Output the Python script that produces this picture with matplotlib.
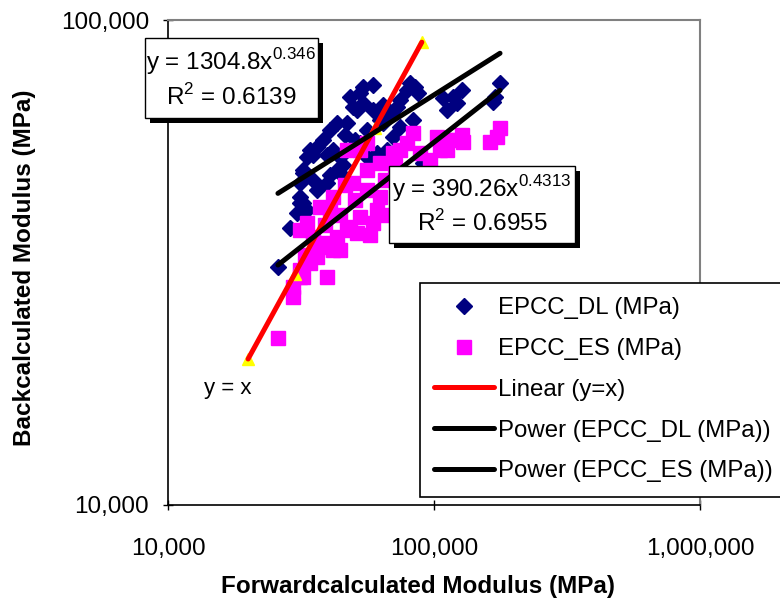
import numpy as np
import matplotlib
matplotlib.use("Agg")
import matplotlib.pyplot as plt
from matplotlib.ticker import FuncFormatter, NullLocator
from matplotlib.patches import Rectangle

plt.rcParams['font.family'] = ['Liberation Sans', 'DejaVu Sans']
plt.rcParams['mathtext.fontset'] = 'custom'
plt.rcParams['mathtext.rm'] = 'Liberation Sans'

# EPCC_DL (MPa): forwardcalculated vs backcalculated
dl_fwd = [25900, 28750, 30550, 31350, 31350, 31350, 32180, 32180, 33320, 33320,
          34190, 32180, 35090, 36330, 36330, 38270, 39620, 40640, 40640, 41710,
          43180, 43180, 44320, 44320, 47090, 48330, 49610, 51350, 52700, 52700,
          54090, 54090, 58970, 56000, 58970, 58970, 61050, 61050, 62660, 64310,
          66570, 68320, 70120, 72590, 74500, 74500, 79150, 81240, 84830, 87070,
          83380, 90920, 108100, 117900, 127400, 122000, 111900, 177100, 169600, 166700,
          46290, 50470, 39620, 35090, 56000, 64310, 45490]
dl_back = [30960, 37250, 40010, 43160, 41950, 46120, 48370, 41950, 40580, 52180,
           53950, 49060, 52680, 54720, 44620, 56580, 46120, 59330, 47910, 53950,
           61330, 49060, 52180, 48370, 61330, 69380, 66170, 65230, 70710, 55780,
           72760, 67440, 73450, 52180, 50720, 65230, 64620, 53190, 62210, 61330,
           53950, 64310, 57390, 66170, 68410, 60180, 71730, 74150, 72760, 70710,
           62210, 50720, 69050, 69380, 71730, 67440, 65230, 74150, 69380, 67760,
           57940, 56580, 52680, 46780, 59330, 66800, 50230]

# EPCC_ES (MPa)
es_fwd = [25900, 29500, 29500, 31350, 31350, 32180, 34190, 39620, 36330, 39620,
          44320, 36330, 41710, 35090, 39620, 43180, 47090, 51350, 31350, 33320,
          37290, 41710, 48330, 52700, 58970, 61050, 62660, 56000, 49610, 62660,
          56000, 70120, 52700, 47090, 56000, 79150, 83380, 88600, 102600, 105300,
          111900, 119900, 127400, 128500, 162400, 172600, 177100, 96600, 111900, 44320,
          38930, 50470, 46290, 65440, 71350, 35700, 32730, 57460, 65440, 40640, 74500]
es_back = [22100, 26850, 28150, 29520, 30520, 29520, 31550, 29520, 32460, 34040,
           33560, 33560, 33560, 35700, 34700, 35700, 36900, 36380, 36900, 38140,
           41160, 43160, 37430, 39250, 38140, 40580, 43160, 44620, 46120, 50720,
           49060, 53190, 53950, 53950, 55780, 55780, 58490, 53190, 57390, 53950,
           56580, 56580, 57940, 56040, 56040, 57390, 59890, 51440, 53950, 39620,
           37790, 42550, 45690, 46780, 50230, 34360, 32770, 36030, 39620, 40580, 53950]

# y = x reference points
yx_vals = [20000, 30000, 60000, 90000]

# power trendline coefficients (y = a * x^b)
dl_a, dl_b, dl_r2 = 1304.8, 0.346, 0.6139
es_a, es_b, es_r2 = 390.26, 0.4313, 0.6955

fig = plt.figure(figsize=(7.8, 6.05), dpi=100)
ax = fig.add_axes([168/780, 1-505/605, 532/780, 485/605])

ax.plot(dl_fwd, dl_back, 'D', color='#000080', ms=8, mec='#000080',
        label='EPCC_DL (MPa)', zorder=3)
ax.plot(es_fwd, es_back, 's', color='#FF00FF', ms=9.5, mec='#FF00FF',
        label='EPCC_ES (MPa)', zorder=3)
ax.plot(yx_vals, yx_vals, '^', color='#FFFF00', ms=9, mec='#FFFF00',
        label='_nolegend_', zorder=3)

xl = np.array([min(yx_vals), max(yx_vals)])
ax.plot(xl, xl, color='#FF0000', lw=3.6, label='Linear (y=x)', zorder=4,
        solid_capstyle='round')
xd = np.array([min(dl_fwd), max(dl_fwd)])
ax.plot(xd, dl_a * xd ** dl_b, color='black', lw=3.6,
        label='Power (EPCC_DL (MPa))', zorder=4, solid_capstyle='round')
xe = np.array([min(es_fwd), max(es_fwd)])
ax.plot(xe, es_a * xe ** es_b, color='black', lw=3.6,
        label='Power (EPCC_ES (MPa))', zorder=4, solid_capstyle='round')

ax.set_xscale('log')
ax.set_yscale('log')
ax.set_xlim(1e4, 1e6)
ax.set_ylim(1e4, 1e5)
ax.set_xticks([1e4, 1e5, 1e6])
ax.set_yticks([1e4, 1e5])
ax.xaxis.set_minor_locator(NullLocator())
ax.yaxis.set_minor_locator(NullLocator())
fmt = FuncFormatter(lambda v, p: f'{v:,.0f}')
ax.xaxis.set_major_formatter(fmt)
ax.yaxis.set_major_formatter(fmt)
ax.tick_params(axis='both', direction='inout', length=7, width=1,
               labelsize=17.5, color='black')
ax.tick_params(axis='x', pad=20)
ax.tick_params(axis='y', pad=10)

for s in ['left', 'bottom']:
    ax.spines[s].set_color('black')
    ax.spines[s].set_linewidth(1.2)
for s in ['top', 'right']:
    ax.spines[s].set_color('#808080')
    ax.spines[s].set_linewidth(1.5)

ax.set_xlabel('Forwardcalculated Modulus (MPa)', fontsize=17.5, fontweight='bold')
ax.set_ylabel('Backcalculated Modulus (MPa)', fontsize=17.5, fontweight='bold')
ax.xaxis.set_label_coords(0.47, -0.168)
ax.xaxis.label.set_va('center')
ax.yaxis.set_label_coords(-0.269, 0.489)
ax.yaxis.label.set_va('center')

ax.text(16800, 17400, 'y = x', fontsize=16, ha='center', va='center')

leg = ax.legend(loc='upper left', bbox_to_anchor=(420/780, 1-283/605),
                bbox_transform=fig.transFigure, fontsize=17.3, numpoints=1,
                frameon=True, fancybox=False, edgecolor='black', framealpha=1,
                borderaxespad=0, borderpad=0.6, labelspacing=0.78,
                handlelength=2.5, handletextpad=0.15)
leg.get_frame().set_linewidth(1.2)

# equation boxes with shadow
def eq_box(x0, y0, x1, y1, lines):
    W, H = 780.0, 605.0
    fig.patches.append(Rectangle(((x0+5)/W, 1-(y1+5)/H), (x1-x0)/W, (y1-y0)/H,
                                 transform=fig.transFigure, facecolor='black',
                                 edgecolor='none', zorder=6))
    fig.patches.append(Rectangle((x0/W, 1-y1/H), (x1-x0)/W, (y1-y0)/H,
                                 transform=fig.transFigure, facecolor='white',
                                 edgecolor='black', lw=1, zorder=7))
    fig.text((x0+x1)/2/W, 1-((y0+y1)/2)/H, lines, ha='center', va='center',
             multialignment='center', fontsize=17.5, linespacing=1.3, zorder=8)

eq_box(145, 38, 318, 118,
       f'y = {dl_a}x$^{{\\mathregular{{{dl_b}}}}}$\nR$^{{\\mathregular{{2}}}}$ = {dl_r2}')
eq_box(389, 166, 575, 243,
       f'y = {es_a}x$^{{\\mathregular{{{es_b}}}}}$\nR$^{{\\mathregular{{2}}}}$ = {es_r2}')

fig.savefig('out.png', dpi=100)
